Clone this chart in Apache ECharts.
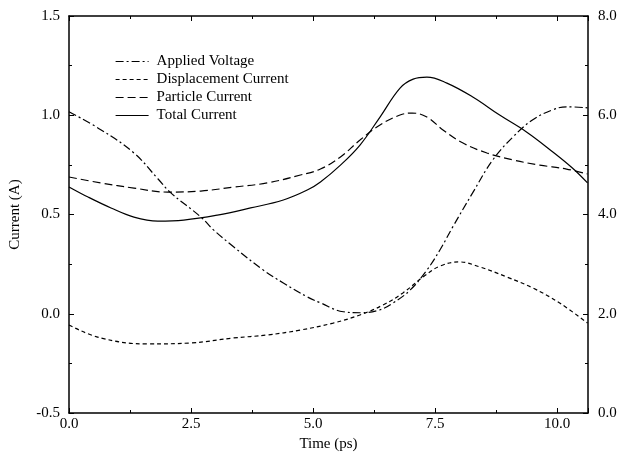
<!DOCTYPE html>
<html>
<head>
<meta charset="utf-8">
<script src="https://cdn.jsdelivr.net/npm/echarts@6/dist/echarts.min.js"></script>
<style>html,body{margin:0;padding:0;background:#fff}#c{width:620px;height:457px}</style>
</head>
<body>
<div id="c"></div>
<script>
var seriesNames = ['Applied Voltage', 'Displacement Current', 'Particle Current', 'Total Current'];
var xTickLabels = ['0.0', '2.5', '5.0', '7.5', '10.0'];
var leftTickLabels = ['-0.5', '0.0', '0.5', '1.0', '1.5'];
var rightTickLabels = ['0.0', '2.0', '4.0', '6.0', '8.0'];

var timeVoltage = [0, 0.65, 1.33, 1.82, 2.08, 2.70, 2.96, 3.37, 3.98, 4.39, 4.88, 5.15, 5.62, 5.97, 6.37, 6.64, 6.99, 7.33, 7.60, 7.86, 8.27, 8.68, 9.09, 9.50, 9.91, 10.19, 10.62];
var appliedVoltage = [6.07, 5.71, 5.24, 4.72, 4.44, 3.95, 3.69, 3.35, 2.88, 2.62, 2.34, 2.22, 2.04, 2.02, 2.08, 2.22, 2.48, 2.88, 3.29, 3.75, 4.44, 5.10, 5.56, 5.91, 6.11, 6.17, 6.15];

var timeDisp = [0, 0.65, 1.61, 2.49, 3.37, 4.06, 4.74, 5.41, 5.96, 6.43, 6.84, 7.25, 7.60, 8.0, 8.41, 8.97, 9.50, 10.05, 10.62];
var displacementCurrent = [-0.057, -0.122, -0.152, -0.147, -0.122, -0.107, -0.082, -0.047, -0.006, 0.044, 0.105, 0.185, 0.24, 0.261, 0.236, 0.185, 0.13, 0.054, -0.047];

var timeParticle = [0, 0.65, 1.33, 2.02, 2.70, 3.37, 4.06, 4.74, 5.15, 5.56, 5.96, 6.37, 6.78, 7.03, 7.33, 7.66, 8.07, 8.56, 9.09, 9.64, 10.19, 10.62];
var particleCurrent = [0.689, 0.659, 0.633, 0.613, 0.618, 0.638, 0.659, 0.699, 0.729, 0.79, 0.875, 0.951, 1.001, 1.011, 0.991, 0.926, 0.86, 0.81, 0.775, 0.749, 0.729, 0.704];

var timeTotal = [0, 0.39, 0.86, 1.33, 1.82, 2.35, 3.04, 3.72, 4.39, 4.88, 5.15, 5.56, 5.96, 6.37, 6.78, 7.05, 7.33, 7.74, 8.27, 8.82, 9.37, 9.91, 10.31, 10.62];
var totalCurrent = [0.639, 0.588, 0.533, 0.487, 0.467, 0.472, 0.497, 0.533, 0.573, 0.623, 0.664, 0.749, 0.85, 0.991, 1.137, 1.182, 1.192, 1.162, 1.092, 1.001, 0.916, 0.815, 0.734, 0.659];

function pairs(xs, ys) { return xs.map(function (x, i) { return [x, ys[i]]; }); }

var FONT = 'Liberation Serif';
var FS = 15;
var axisLine = { show: true, onZero: false, lineStyle: { color: '#000', width: 1.5 } };
var tick = { show: true, inside: true, length: 5, lineStyle: { color: '#000', width: 1 } };
var minor = { show: true, splitNumber: 2, length: 3, lineStyle: { color: '#000', width: 1 } };
function lbl(list, minV, step) {
  return function (v) {
    var k = Math.round((v - minV) / step);
    if (Math.abs(minV + k * step - v) > 1e-6) return '';
    return list[k] !== undefined ? list[k] : '';
  };
}

var chart = echarts.init(document.getElementById('c'));
chart.setOption({
  backgroundColor: '#fff',
  animation: false,
  grid: { left: 68, right: 32, top: 16, bottom: 44, containLabel: false },
  legend: {
    orient: 'vertical', left: 115, top: 54, padding: 0, itemWidth: 33, itemHeight: 14, itemGap: 3,
    itemStyle: { color: 'rgba(0,0,0,0)', borderWidth: 0, opacity: 0 },
    lineStyle: { width: 1.2 },
    textStyle: { fontFamily: FONT, fontSize: FS, color: '#000', padding: [0, 0, 0, 3] },
    data: seriesNames
  },
  xAxis: [{
    type: 'value', min: 0, max: 10.63, interval: 2.5,
    name: 'Time (ps)', nameLocation: 'middle', nameGap: 24,
    nameTextStyle: { fontFamily: FONT, fontSize: FS, color: '#000' },
    axisLine: axisLine, axisTick: tick, minorTick: minor, splitLine: { show: false },
    axisLabel: { fontFamily: FONT, fontSize: FS, color: '#000', margin: 4, showMaxLabel: false, formatter: lbl(xTickLabels, 0, 2.5) }
  }, {
    type: 'value', position: 'top', min: 0, max: 10.63, interval: 2.5,
    axisLine: axisLine, axisTick: tick, minorTick: minor, splitLine: { show: false },
    axisLabel: { show: false }
  }],
  yAxis: [{
    type: 'value', min: -0.5, max: 1.5, interval: 0.5,
    name: 'Current (A)', nameLocation: 'middle', nameGap: 46,
    nameTextStyle: { fontFamily: FONT, fontSize: FS, color: '#000' },
    axisLine: axisLine, axisTick: tick, minorTick: minor, splitLine: { show: false },
    axisLabel: { fontFamily: FONT, fontSize: FS, color: '#000', margin: 9, formatter: lbl(leftTickLabels, -0.5, 0.5) }
  }, {
    type: 'value', position: 'right', min: 0, max: 8, interval: 2,
    axisLine: axisLine, axisTick: tick, minorTick: minor, splitLine: { show: false },
    axisLabel: { fontFamily: FONT, fontSize: FS, color: '#000', margin: 10, formatter: lbl(rightTickLabels, 0, 2) }
  }],
  series: [{
    name: seriesNames[0], type: 'line', yAxisIndex: 1, smooth: 0.4, symbol: 'none',
    lineStyle: { color: '#000', width: 1.2, type: [8, 3, 2, 3] }, itemStyle: { color: '#000' },
    data: pairs(timeVoltage, appliedVoltage)
  }, {
    name: seriesNames[1], type: 'line', yAxisIndex: 0, smooth: 0.4, symbol: 'none',
    lineStyle: { color: '#000', width: 1.2, type: [4, 3] }, itemStyle: { color: '#000' },
    data: pairs(timeDisp, displacementCurrent)
  }, {
    name: seriesNames[2], type: 'line', yAxisIndex: 0, smooth: 0.4, symbol: 'none',
    lineStyle: { color: '#000', width: 1.2, type: [8, 4] }, itemStyle: { color: '#000' },
    data: pairs(timeParticle, particleCurrent)
  }, {
    name: seriesNames[3], type: 'line', yAxisIndex: 0, smooth: 0.4, symbol: 'none',
    lineStyle: { color: '#000', width: 1.2, type: 'solid' }, itemStyle: { color: '#000' },
    data: pairs(timeTotal, totalCurrent)
  }]
});
</script>
</body>
</html>
